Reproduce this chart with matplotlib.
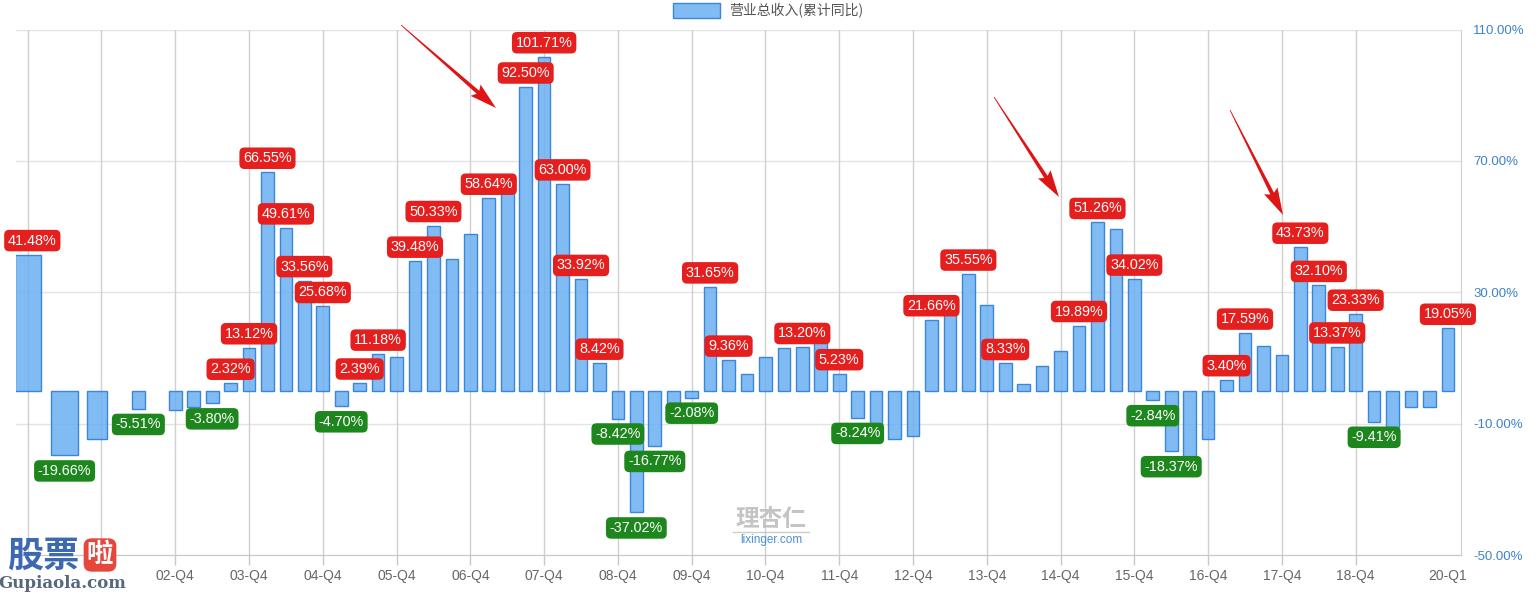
import matplotlib
matplotlib.use("Agg")
import matplotlib.pyplot as plt
from matplotlib.patches import Polygon, Rectangle
import numpy as np

plt.rcParams['font.family'] = ['Liberation Sans', 'Noto Sans CJK SC', 'DejaVu Sans']

# ---------------- data ----------------
periods = ['00-Q4', '01-Q2', '01-Q4', '02-Q2', '02-Q4',
           '03-Q1', '03-Q2', '03-Q3', '03-Q4',
           '04-Q1', '04-Q2', '04-Q3', '04-Q4',
           '05-Q1', '05-Q2', '05-Q3', '05-Q4',
           '06-Q1', '06-Q2', '06-Q3', '06-Q4',
           '07-Q1', '07-Q2', '07-Q3', '07-Q4',
           '08-Q1', '08-Q2', '08-Q3', '08-Q4',
           '09-Q1', '09-Q2', '09-Q3', '09-Q4',
           '10-Q1', '10-Q2', '10-Q3', '10-Q4',
           '11-Q1', '11-Q2', '11-Q3', '11-Q4',
           '12-Q1', '12-Q2', '12-Q3', '12-Q4',
           '13-Q1', '13-Q2', '13-Q3', '13-Q4',
           '14-Q1', '14-Q2', '14-Q3', '14-Q4',
           '15-Q1', '15-Q2', '15-Q3', '15-Q4',
           '16-Q1', '16-Q2', '16-Q3', '16-Q4',
           '17-Q1', '17-Q2', '17-Q3', '17-Q4',
           '18-Q1', '18-Q2', '18-Q3', '18-Q4',
           '19-Q1', '19-Q2', '19-Q3', '19-Q4',
           '20-Q1']

growth = [41.48, -19.66, -14.7, -5.51, -5.8,
          -5.0, -3.80, 2.32, 13.12,
          66.55, 49.61, 33.56, 25.68,
          -4.70, 2.39, 11.18, 10.4,
          39.48, 50.33, 40.2, 47.8,
          58.64, 62.0, 92.50, 101.71,
          63.00, 33.92, 8.42, -8.42,
          -37.02, -16.77, -3.6, -2.08,
          31.65, 9.36, 5.0, 10.4,
          13.0, 13.20, 15.5, 5.23,
          -8.24, -12.0, -14.6, -13.6,
          21.66, 25.0, 35.55, 26.1,
          8.33, 2.2, 7.6, 12.0,
          19.89, 51.26, 49.2, 34.02,
          -2.84, -18.37, -20.0, -14.7,
          3.40, 17.59, 13.8, 11.0,
          43.73, 32.10, 13.37, 23.33,
          -9.41, -11.0, -4.8, -4.8,
          19.05]

labeled_periods = ['00-Q4', '01-Q2', '02-Q2', '03-Q2', '03-Q3', '03-Q4',
                   '04-Q1', '04-Q2', '04-Q3', '04-Q4', '05-Q1', '05-Q2', '05-Q3',
                   '06-Q1', '06-Q2', '07-Q1', '07-Q3', '07-Q4', '08-Q1', '08-Q2',
                   '08-Q3', '08-Q4', '09-Q1', '09-Q2', '09-Q4', '10-Q1', '10-Q2',
                   '11-Q2', '11-Q4', '12-Q1', '13-Q1', '13-Q3', '14-Q1', '15-Q1',
                   '15-Q2', '15-Q4', '16-Q1', '16-Q2', '17-Q1', '17-Q2', '18-Q1',
                   '18-Q2', '18-Q3', '18-Q4', '19-Q1', '20-Q1']

# gridline positions (yearly) and visible tick labels (00-Q4/01-Q4 sit under the logo)
grid_periods = ['00-Q4', '01-Q4', '02-Q4', '03-Q4', '04-Q4', '05-Q4', '06-Q4',
                '07-Q4', '08-Q4', '09-Q4', '10-Q4', '11-Q4', '12-Q4', '13-Q4',
                '14-Q4', '15-Q4', '16-Q4', '17-Q4', '18-Q4']
tick_periods = ['02-Q4', '03-Q4', '04-Q4', '05-Q4', '06-Q4',
                '07-Q4', '08-Q4', '09-Q4', '10-Q4', '11-Q4', '12-Q4', '13-Q4',
                '14-Q4', '15-Q4', '16-Q4', '17-Q4', '18-Q4', '20-Q1']

y_ticks = [-50, -10, 30, 70, 110]
legend_label = '营业总收入(累计同比)'


def qindex(p):
    yy, qq = p.split('-Q')
    return (int(yy) * 4 + int(qq)) - 4  # 00-Q4 -> 0


# ---------------- figure ----------------
W, H = 1539, 594
fig = plt.figure(figsize=(W / 100, H / 100), dpi=100)
fig.patch.set_facecolor('white')

left_px, right_px, top_px, bot_px = 15.7, 1460.7, 29.5, 555.1
ax = fig.add_axes([left_px / W, 1 - bot_px / H, (right_px - left_px) / W, (bot_px - top_px) / H])

x = np.array([qindex(p) for p in periods], dtype=float)
vals = np.array(growth)

px_per_q = 18.444
ax.set_xlim((left_px - 27.7) / px_per_q, (right_px - 27.7) / px_per_q)
ax.set_ylim(-50, 110)

# widths: early (annual / semi-annual) bars are drawn wider
widths = np.full(len(x), 0.69)
widths[0] = 1.41
widths[1] = 1.42
widths[2] = 1.08
xpos = x.copy()
xpos[2] -= 0.23

# grid
for yv in y_ticks:
    ax.axhline(yv, color='#e3e3e3', lw=1, zorder=0)
grid_x = [qindex(p) for p in grid_periods]
for t in grid_x:
    ax.axvline(t, color='#d0d0d0', lw=1, zorder=0)

ax.bar(xpos, vals, width=widths, facecolor=(0.42, 0.69, 0.95, 0.85),
       edgecolor='#3a86d8', linewidth=1, zorder=2)

# data labels
RED = '#e51e1e'
GREEN = '#1d871d'
for p, xi, v in zip(periods, x, vals):
    if p not in labeled_periods:
        continue
    cx = max(xi, 0.25)
    if v >= 0:
        off, va, fc = 7, 'bottom', RED
    else:
        off, va, fc = -8.5, 'top', GREEN
    ax.annotate(f'{v:.2f}%', xy=(cx, v), xytext=(0, off), textcoords='offset pixels',
                ha='center', va=va, color='white', fontsize=10.4, zorder=5,
                annotation_clip=False,
                bbox=dict(boxstyle='round,pad=0.26,rounding_size=0.35', fc=fc, ec='none'))

# axes styling
for s in ['left', 'top']:
    ax.spines[s].set_visible(False)
ax.spines['bottom'].set_color('#c8c8c8')
ax.spines['right'].set_color('#d0d0d0')
ax.yaxis.tick_right()
ax.set_yticks(y_ticks)
ax.set_yticklabels([f'{v:.2f}%' for v in y_ticks])
ax.tick_params(axis='y', length=0, pad=8.9, labelsize=9.5, labelcolor='#3d82c8')
ax.set_xticks([qindex(p) for p in tick_periods])
ax.set_xticklabels(tick_periods)
ax.tick_params(axis='x', length=7.2, width=1, color='#c8c8c8', pad=3,
               labelsize=10, labelcolor='#666666')
ax.xaxis.get_major_ticks()[-1].tick1line.set_visible(False)
# tick marks under the logo-covered years
for t in grid_x[:2]:
    ax.plot([t, t], [0, -0.018], transform=ax.get_xaxis_transform(), color='#c8c8c8',
            lw=1, clip_on=False)
ax.set_facecolor('none')

# legend
fig.add_artist(Rectangle((672.5 / W, 1 - 17.5 / H), 47 / W, 14 / H, transform=fig.transFigure,
                         facecolor=(0.42, 0.69, 0.95, 0.85), edgecolor='#3a86d8', lw=1))
fig.text(729 / W, 1 - 10.5 / H, legend_label, fontsize=10, color='#555555',
         family=['Noto Sans CJK SC', 'DejaVu Sans'], ha='left', va='center')


# arrows (annotation shapes, image pixel coords)
def arrow(x0, y0, x1, y1):
    p0 = np.array([x0, H - y0], float)
    p1 = np.array([x1, H - y1], float)
    d = p1 - p0
    d /= np.hypot(*d)
    n = np.array([-d[1], d[0]])
    hl, hw = 24, 15
    base = p1 - d * hl
    pts = [p0 + n * 0.4, base + n * 2.0, base - d * 3 + n * hw / 2, p1,
           base - d * 3 - n * hw / 2, base - n * 2.0, p0 - n * 0.4]
    pts = np.array(pts) / np.array([W, H])
    fig.add_artist(Polygon(pts, closed=True, transform=fig.transFigure,
                           facecolor='#dd1515', edgecolor='none', zorder=10))


arrow(401, 25, 496, 108)
arrow(994, 97, 1059, 197)
arrow(1230, 110, 1283, 215)

# watermarks
fig.text(771 / W, 1 - 519 / H, '理杏仁', fontsize=17, color='#c4c4c4', weight='bold',
         family=['Noto Sans CJK SC'], ha='center', va='center', zorder=10)
fig.add_artist(plt.Line2D([733 / W, 809 / W], [1 - 532 / H, 1 - 532 / H],
                          transform=fig.transFigure, color='#cccccc', lw=1))
fig.text(771 / W, 1 - 540 / H, 'lixinger.com', fontsize=8.5, color='#4a8fd6',
         ha='center', va='center', zorder=10)

fig.text(43 / W, 1 - 556 / H, '股票', fontsize=26, color='#3c69b0', weight='bold',
         family=['Noto Sans CJK SC'], ha='center', va='center', zorder=10)
fig.text(100 / W, 1 - 555 / H, '啦', fontsize=19, color='white', weight='bold',
         family=['Noto Sans CJK SC'], ha='center', va='center', zorder=10,
         bbox=dict(boxstyle='round,pad=0.12,rounding_size=0.3', fc='#e5473c', ec='none'))
fig.text(62 / W, 1 - 584 / H, 'Gupiaola.com', fontsize=12, color='#56687e', weight='bold',
         family=['DejaVu Serif'], ha='center', va='center', zorder=10)

fig.savefig('out.png', dpi=100, facecolor='white')
